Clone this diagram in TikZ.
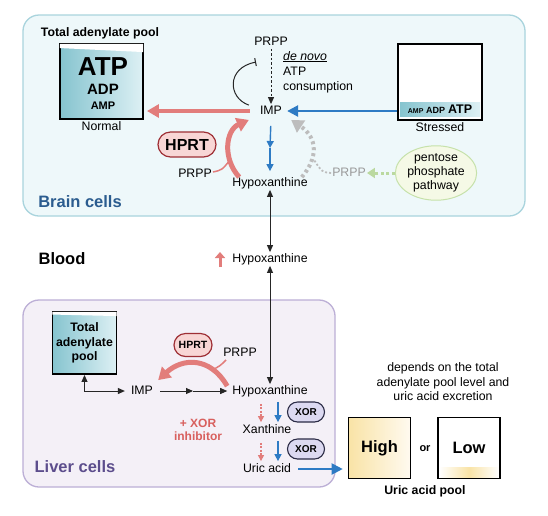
\documentclass[tikz,border=0pt]{standalone}
\usepackage{fontspec}
\setmainfont{Liberation Sans}
\usetikzlibrary{calc,positioning,arrows.meta,shapes.geometric,shapes.misc}

\definecolor{brainfill}{HTML}{EEF8FA}
\definecolor{brainline}{HTML}{A9D4DD}
\definecolor{liverfill}{HTML}{F4F0F7}
\definecolor{liverline}{HTML}{BCAFD6}
\definecolor{salmon}{HTML}{E27D7B}
\definecolor{pathblue}{HTML}{2E7BC4}
\definecolor{dotgray}{HTML}{BDBDBD}
\definecolor{dotgreen}{HTML}{BBD9A0}
\definecolor{pooldark}{HTML}{86C4CF}
\definecolor{poollight}{HTML}{DDF0F4}
\definecolor{hprtfill}{HTML}{F8D6D5}
\definecolor{hprtline}{HTML}{9E2F35}
\definecolor{xorfill}{HTML}{DCD9F1}
\definecolor{xorline}{HTML}{2B2B45}
\definecolor{brainblue}{HTML}{2B5C8F}
\definecolor{liverpurple}{HTML}{5C4D8C}
\definecolor{inhibred}{HTML}{D8605E}
\definecolor{pppfill}{HTML}{F5F9E6}
\definecolor{pppline}{HTML}{C6E1AA}
\definecolor{uricdark}{HTML}{F9E3A6}
\definecolor{uriclight}{HTML}{FFFAF0}

\begin{document}
\begin{tikzpicture}[x=1pt,y=-1pt,
    txt/.style={font=\fontsize{12.3}{14.5}\selectfont,inner sep=1pt,text height=8.8pt,text depth=2.6pt},
    ttl/.style={font=\fontsize{12.3}{14.5}\selectfont\bfseries,inner sep=1pt},
    region/.style={font=\fontsize{16.5}{19}\selectfont\bfseries,inner sep=0pt},
    poolbox/.style={rectangle,draw=black,line width=1.9pt,left color=pooldark,right color=poollight,inner sep=0pt},
    urbox/.style={rectangle,draw=black,line width=1.6pt,minimum width=62,minimum height=61,inner sep=0pt,font=\fontsize{16.5}{18}\selectfont\bfseries},
    hprt/.style={rounded rectangle,draw=hprtline,line width=1.2pt,fill=hprtfill,inner sep=1pt},
    xor/.style={rounded rectangle,draw=xorline,line width=1.1pt,fill=xorfill,minimum width=39,minimum height=20,inner sep=1pt,font=\fontsize{10}{12}\selectfont\bfseries},
    blk/.style={draw=black!85,line width=0.9pt,-{Triangle[length=7pt,width=6pt]}},
    dbl/.style={draw=black!85,line width=0.9pt,{Triangle[length=7pt,width=6pt]}-{Triangle[length=7pt,width=6pt]}},
    blu/.style={draw=pathblue,line width=1.4pt,-{Triangle[length=7pt,width=7pt]}},
    bluebig/.style={draw=pathblue,line width=2.4pt,-{Triangle[length=11pt,width=11pt]}},
    redbig/.style={draw=salmon,line width=3.5pt,-{Triangle[length=12pt,width=13pt]}},
    reddash/.style={draw=salmon,line width=1.1pt,dash pattern=on 2pt off 1.5pt,-{Triangle[length=6pt,width=6pt]}},
  ]

  \useasboundingbox (0,0) rectangle (548,515);
  \fill[white] (0,0) rectangle (548,515);

  %% regions
  \draw[brainline,fill=brainfill,line width=1.3pt,rounded corners=16pt] (23,15) rectangle (525,216);
  \draw[liverline,fill=liverfill,line width=1.3pt,rounded corners=16pt] (23,300) rectangle (335,487);

  \node (brain_lbl) [region,text=brainblue] at (80,202) {Brain cells};
  \node (blood_lbl) [region] at (62,259) {Blood};
  \node (liver_lbl) [region,text=liverpurple] at (75,467) {Liver cells};

  %% brain: adenylate pools
  \node (pool_title_b) [ttl] at (100,33) {Total adenylate pool};
  \node (pool_b) [poolbox,minimum width=83,minimum height=75] at (101.5,81.5) {};
  \fill[white] ($(pool_b.north west)+(0.9,0.9)$) -- ($(pool_b.north east)+(-0.9,0.9)$)
    -- ($(pool_b.north east)+(-0.9,9)$) -- ($(pool_b.north west)+(0.9,5)$) -- cycle;
  \node (atp_b) [font=\fontsize{26}{28}\selectfont\bfseries,inner sep=0pt] at (103,67) {ATP};
  \node (adp_b) [font=\fontsize{15}{17}\selectfont\bfseries,inner sep=0pt] at (103,89) {ADP};
  \node (amp_b) [font=\fontsize{11}{13}\selectfont\bfseries,inner sep=0pt] at (103,106) {AMP};
  \node (normal) [txt,below=1pt of pool_b] {Normal};

  \node (pool_s) [rectangle,draw=black,line width=1.9pt,fill=white,minimum width=84,minimum height=76,inner sep=0pt] at (440,82) {};
  \node (band_s) [rectangle,left color=pooldark,right color=poollight,minimum width=80,minimum height=14,inner sep=0pt,font=\bfseries] at (440,109.5)
    {{\fontsize{7}{8}\selectfont AMP} {\fontsize{9}{10}\selectfont ADP} {\fontsize{12.5}{13}\selectfont ATP}};
  \node (stressed) [txt,below=1pt of pool_s] {Stressed};

  %% brain: pathway
  \node (prpp_top) [txt] at (271,42) {PRPP};
  \node (imp_b) [txt] at (271,111) {IMP};
  \node (hx_b) [txt] at (270,183) {Hypoxanthine};
  \node (denovo) [txt,anchor=west] at (282,57) {\textit{\underline{de novo}}};
  \node (atp_cons) [txt,anchor=north west,align=left,text height=,text depth=] at (282,66) {ATP\\consumption};

  \draw[blk,dash pattern=on 2.5pt off 2pt] (prpp_top.south) -- (imp_b.north);
  \coordinate (inh_end) at (256,62);
  \draw[black!85,line width=1pt,-{Bar[width=8pt]}] ($(imp_b.north west)+(-10,1)$) .. controls (228,98) and (226,68) .. (inh_end);

  \draw[redbig,shorten <=9pt,shorten >=3pt] (imp_b.west) -- (imp_b.west -| pool_b.east);
  \draw[bluebig,shorten >=4pt] (pool_s.west |- imp_b.east) -- (imp_b.east);

  \coordinate (mid_b) at (270,148);
  \draw[blu,shorten <=8pt] (imp_b.south) -- (mid_b);
  \draw[blu,shorten >=5pt] (mid_b) -- (hx_b.north);

  \node (hprt_b) [hprt,font=\fontsize{16}{18}\selectfont\bfseries,minimum width=60,minimum height=25] at (187,144.5) {HPRT};
  \node (prpp_b) [txt] at (195,174) {PRPP};
  \draw[salmon,line width=1.5pt] ($(prpp_b.east)+(0,-2)$) .. controls (222,170) .. (230,160);
  \draw[redbig,line width=5pt,-{Triangle[length=12pt,width=14pt]}] ($(hx_b.north west)+(8,1)$) .. controls (222,158) and (226,130) .. ($(imp_b.south west)+(-10,2)$);

  \node (prpp_g) [txt,text=black!40] at (349,173) {PRPP};
  \node (ppp) [ellipse,draw=pppline,fill=pppfill,line width=1pt,minimum width=78,minimum height=54,inner sep=0pt,align=center,font=\fontsize{12.3}{14}\selectfont] at (436,173) {pentose\\phosphate\\pathway};
  \draw[dotgray,line width=1.8pt,dash pattern=on 2pt off 2pt] (prpp_g.west) .. controls (322,172) .. (314,160);
  \draw[dotgray,line width=4pt,dash pattern=on 3pt off 3pt,-{Triangle[length=12pt,width=14pt]}] ($(hx_b.north east)+(-7,1)$) .. controls (318,158) and (318,138) .. ($(imp_b.south east)+(8,2)$);
  \draw[dotgreen,line width=3pt,dash pattern=on 3pt off 2.5pt,-{Triangle[length=8pt,width=10pt]}] (ppp.west) -- (prpp_g.east);

  %% blood
  \node (hx_bl) [txt] at (270,259) {Hypoxanthine};
  \draw[salmon,line width=3pt,-{Triangle[length=6pt,width=10pt]}] (220,267) -- (220,252);
  \draw[dbl] (hx_b.south) -- (hx_bl.north);

  %% liver
  \node (pool_l) [poolbox,minimum width=64,minimum height=62,align=center,font=\fontsize{12.3}{14.5}\selectfont\bfseries] at (84.5,343) {Total\\adenylate\\pool};
  \fill[white] ($(pool_l.north west)+(0.9,0.9)$) -- ($(pool_l.north east)+(-0.9,0.9)$)
    -- ($(pool_l.north east)+(-0.9,5)$) -- ($(pool_l.north west)+(0.9,3.5)$) -- cycle;

  \node (imp_l) [txt] at (142,391) {IMP};
  \node (hx_l) [txt] at (270,391) {Hypoxanthine};
  \node (xan_l) [txt] at (267,430) {Xanthine};
  \node (uric_l) [txt] at (267,469) {Uric acid};
  \draw[dbl] (hx_bl.south) -- (hx_l.north);

  \draw[dbl,shorten <=5pt] (imp_l.west) -| (pool_l.south);
  \coordinate (mid_l) at (193,391);
  \draw[blk,shorten <=6pt] (imp_l.east) -- (mid_l);
  \draw[blk,shorten >=4pt] (mid_l) -- (hx_l.west);

  \node (hprt_l) [hprt,font=\fontsize{10.5}{12}\selectfont\bfseries,minimum width=40,minimum height=23] at (193,345) {HPRT};
  \node (prpp_l) [txt] at (240,353) {PRPP};
  \draw[salmon,line width=1.5pt] ($(prpp_l.south west)+(4,0)$) .. controls (220,366) .. (212,370);
  \draw[redbig,line width=5pt,-{Triangle[length=12pt,width=14pt]}] ($(hx_l.north west)+(-4,2)$) .. controls (210,356) and (182,358) .. ($(imp_l.north east)+(4,-4)$);

  \coordinate (col_red) at (261,0);
  \coordinate (col_blue) at (278,0);
  \foreach \a/\b/\y in {hx_l/xan_l/412, xan_l/uric_l/449}
  {
    \draw[reddash,shorten <=6pt,shorten >=1pt] (col_red |- \a.south) -- (col_red |- \b.north);
    \draw[blu,shorten <=4pt,shorten >=1pt] (col_blue |- \a.south) -- (col_blue |- \b.north);
    \node (xor_\a) [xor] at (306,\y) {XOR};
  }
  \node (inhib) [font=\fontsize{12}{13.5}\selectfont\bfseries,text=inhibred,align=center] at (198,430) {+ XOR\\inhibitor};

  %% uric acid pool
  \node (depends) [align=center,font=\fontsize{12.3}{14.5}\selectfont] at (443,382) {depends on the total\\adenylate pool level and\\uric acid excretion};
  \node (high) [urbox,left color=uricdark,right color=uriclight] at (379.5,448) {High};
  \node (low) [urbox,fill=white] at (469,448) {Low};
  \fill[left color=white,right color=white,middle color=uricdark] ($(low.south west)+(2,-12)$) rectangle ($(low.south east)+(-2,-2)$);
  \node (or) [font=\fontsize{11}{13}\selectfont\bfseries] at (425,449) {or};
  \node (urpool) [ttl] at (425,491) {Uric acid pool};
  \draw[bluebig,line width=2pt,shorten <=6pt,shorten >=5pt] (uric_l.east) -- (uric_l.east -| high.west);

\end{tikzpicture}
\end{document}
